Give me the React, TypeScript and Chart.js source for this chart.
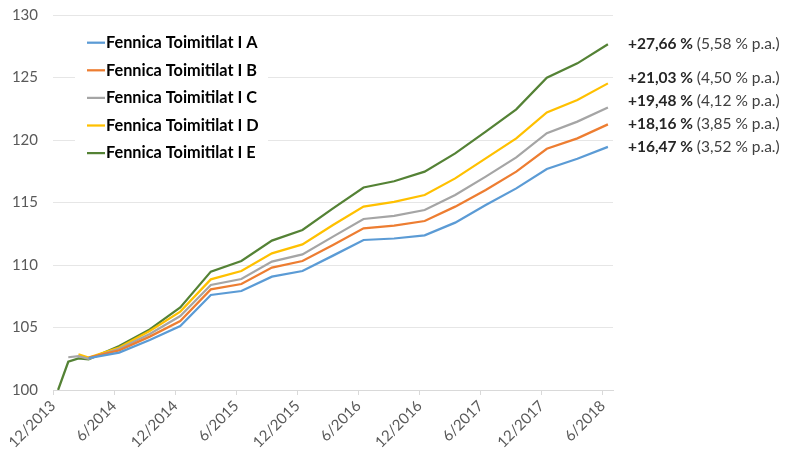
import { useEffect, useRef } from 'react';
import { Chart, registerables } from 'chart.js';

Chart.register(...registerables);

// Months since 12/2013 (quarter-end observations, monthly at the start)
const months = [0, 1, 2, 3, 6, 9, 12, 15, 18, 21, 24, 27, 30, 33, 36, 39, 42, 45, 48, 51, 54];
const tickMonths = [0, 6, 12, 18, 24, 30, 36, 42, 48, 54];
const tickLabels = ['12/2013', '6/2014', '12/2014', '6/2015', '12/2015', '6/2016', '12/2016', '6/2017', '12/2017', '6/2018'];

const seriesNames = [
  'Fennica Toimitilat I A',
  'Fennica Toimitilat I B',
  'Fennica Toimitilat I C',
  'Fennica Toimitilat I D',
  'Fennica Toimitilat I E',
];

const seriesA = [null, null, null, 102.55, 102.99, 104.0, 105.12, 107.6, 107.92, 109.07, 109.52, 110.75, 112.0, 112.12, 112.37, 113.39, 114.8, 116.13, 117.68, 118.5, 119.45];
const seriesB = [null, null, null, 102.6, 103.17, 104.27, 105.52, 108.05, 108.48, 109.79, 110.32, 111.6, 112.93, 113.15, 113.52, 114.67, 116.0, 117.47, 119.3, 120.13, 121.25];
const seriesC = [null, 102.62, 102.7, 102.5, 103.3, 104.48, 105.92, 108.4, 108.88, 110.27, 110.85, 112.27, 113.68, 113.93, 114.4, 115.6, 117.07, 118.61, 120.55, 121.47, 122.6];
const seriesD = [null, null, 102.85, 102.6, 103.4, 104.72, 106.27, 108.85, 109.52, 110.93, 111.65, 113.2, 114.67, 115.05, 115.6, 116.93, 118.53, 120.13, 122.2, 123.2, 124.53];
const seriesE = [100, 102.26, 102.53, 102.45, 103.52, 104.85, 106.6, 109.47, 110.32, 111.95, 112.8, 114.53, 116.2, 116.7, 117.47, 118.93, 120.67, 122.45, 124.99, 126.13, 127.66];

const totalReturns = ['+16,47 %', '+18,16 %', '+19,48 %', '+21,03 %', '+27,66 %'];
const annualReturns = ['(3,52 % p.a.)', '(3,85 % p.a.)', '(4,12 % p.a.)', '(4,50 % p.a.)', '(5,58 % p.a.)'];

const colors = ['#5B9BD5', '#ED7D31', '#A5A5A5', '#FFC000', '#548235'];

const allSeries = [seriesA, seriesB, seriesC, seriesD, seriesE];

const FONT = 'Lato, "Open Sans", sans-serif';

const overlayPlugin = {
  id: 'overlay',
  afterDraw(chart: any) {
    const ctx = chart.ctx as CanvasRenderingContext2D;
    const area = chart.chartArea;
    ctx.save();
    // legend box
    ctx.fillStyle = '#ffffff';
    ctx.fillRect(area.left + 22, area.top + 13, 193, 141);
    const rowH = 27.6;
    const y0 = area.top + 27.7;
    chart.data.datasets.forEach((ds: any, i: number) => {
      const y = y0 + i * rowH;
      ctx.strokeStyle = ds.borderColor;
      ctx.lineWidth = 2.25;
      ctx.beginPath();
      ctx.moveTo(area.left + 34, y);
      ctx.lineTo(area.left + 52, y);
      ctx.stroke();
      ctx.fillStyle = '#000000';
      ctx.font = `bold 16.3px ${FONT}`;
      ctx.textBaseline = 'middle';
      ctx.textAlign = 'left';
      ctx.fillText(ds.label, area.left + 53, y);
    });

    // end-of-line annotations, resolved bottom-up with minimum spacing
    const ends = chart.data.datasets.map((_: any, i: number) => {
      const pts = chart.getDatasetMeta(i).data;
      return { i, y: pts[pts.length - 1].y };
    });
    ends.sort((a: any, b: any) => b.y - a.y);
    const gap = 23;
    let prev = Infinity;
    const xText = area.right + 15;
    for (const e of ends) {
      const y = Math.min(e.y, prev - gap);
      prev = y;
      ctx.textBaseline = 'middle';
      ctx.fillStyle = '#262626';
      ctx.font = `bold 15.5px ${FONT}`;
      const t1 = totalReturns[e.i] + ' ';
      ctx.fillText(t1, xText, y);
      const w = ctx.measureText(t1).width;
      ctx.font = `15.5px ${FONT}`;
      ctx.fillStyle = '#404040';
      ctx.fillText(annualReturns[e.i], xText + w, y);
    }
    ctx.restore();
  },
};

export default function App() {
  const ref = useRef<HTMLCanvasElement | null>(null);
  useEffect(() => {
    document.body.style.margin = '0';
    document.body.style.overflow = 'hidden';
    if (!ref.current) return;
    const chart = new Chart(ref.current, {
      type: 'line',
      data: {
        datasets: allSeries.map((vals, si) => ({
          label: seriesNames[si],
          data: months.map((m, i) => ({ x: m + 0.5, y: vals[i] })).filter((p) => p.y !== null) as any,
          borderColor: colors[si],
          backgroundColor: colors[si],
          borderWidth: 2.25,
          pointRadius: 0,
          tension: 0,
          fill: false,
        })),
      },
      options: {
        responsive: false,
        animation: false,
        layout: { padding: { top: 15, right: 174, left: 0, bottom: 0 } },
        plugins: {
          legend: { display: false },
          tooltip: { enabled: false },
        },
        scales: {
          x: {
            type: 'linear',
            min: 0,
            max: 55,
            afterBuildTicks: (axis: any) => {
              axis.ticks = tickMonths.map((v) => ({ value: v }));
            },
            afterFit: (axis: any) => {
              axis.height = 64;
              axis.paddingRight = 0;
              axis.paddingLeft = 0;
            },
            ticks: {
              autoSkip: false,
              minRotation: 45,
              maxRotation: 45,
              color: '#595959',
              font: { family: FONT, size: 15 },
              padding: 2,
              callback: (value: any) => {
                const idx = tickMonths.indexOf(Number(value));
                return idx >= 0 ? tickLabels[idx] : '';
              },
            },
            grid: {
              drawOnChartArea: false,
              drawTicks: true,
              tickLength: 5,
              color: '#d9d9d9',
            },
            border: { display: true, color: '#d9d9d9', width: 1 },
          },
          y: {
            min: 100,
            max: 130,
            afterFit: (axis: any) => {
              axis.width = 53;
              axis.paddingTop = 0;
              axis.paddingBottom = 0;
            },
            ticks: {
              stepSize: 5,
              color: '#595959',
              font: { family: FONT, size: 15 },
              padding: 15,
            },
            grid: { color: '#e6e6e6', drawTicks: false },
            border: { display: false },
          },
        },
      },
      plugins: [overlayPlugin],
    });
    return () => chart.destroy();
  }, []);
  return <canvas ref={ref} width={787} height={454} style={{ display: 'block' }} />;
}
